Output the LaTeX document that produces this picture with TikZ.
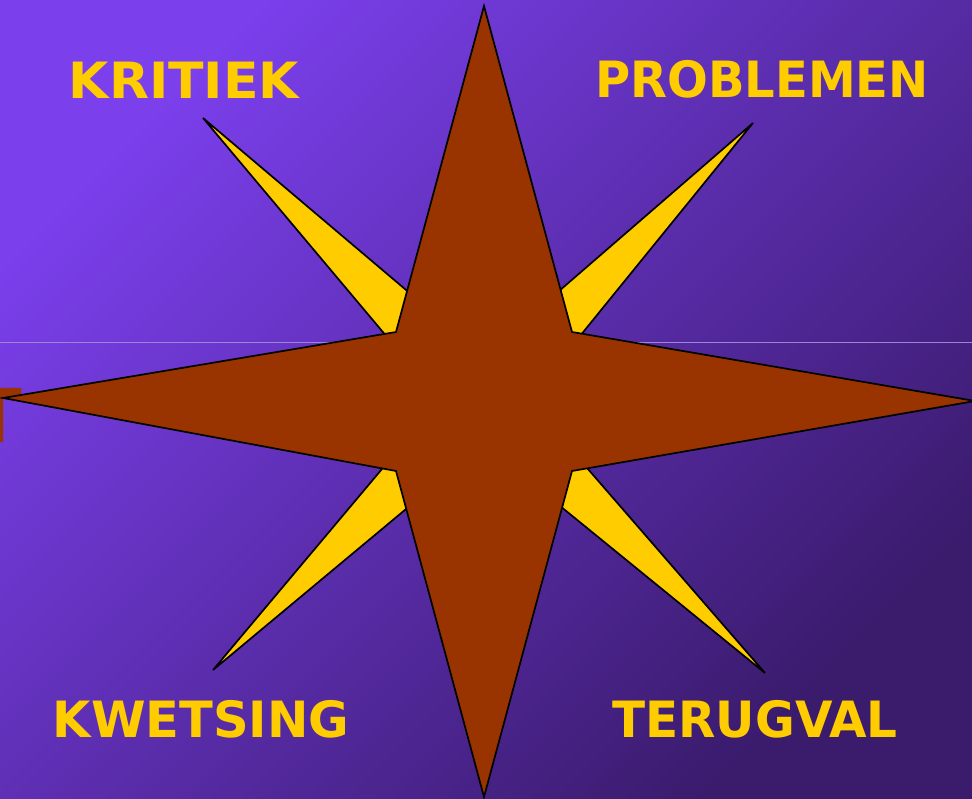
\documentclass[tikz,border=0pt]{standalone}
\usepackage{fontspec}
\setmainfont{DejaVu Sans}
\definecolor{bgA}{HTML}{7B3FEC}
\definecolor{bgB}{HTML}{3A1B6C}
\definecolor{gold}{HTML}{FFCC00}
\definecolor{rust}{HTML}{993300}
\definecolor{faint}{HTML}{9C84D8}
\tikzset{
  lbl/.style={text=gold, font=\fontsize{50}{60}\selectfont\bfseries, inner sep=0pt},
  yellowstar/.style={fill=gold, draw=black, line width=1.7pt, line join=miter},
  rustshape/.style={fill=rust, draw=black, line width=1.7pt, line join=miter},
}
\begin{document}
\begin{tikzpicture}[x=1pt,y=-1pt]
\useasboundingbox (0,0) rectangle (972,799);
\shade[top color=bgA, bottom color=bgB, shading angle=45] (0,0) rectangle (972,799);
\draw[faint, line width=0.8pt] (0,342) -- (972,342);
% small artifact at left edge
\fill[rust] (0,388) -- (21,388) -- (21,398) -- (3,398) -- (3,442) -- (0,442) -- cycle;
% diagonal yellow star
\draw[yellowstar] (203,118) -- (484,356) -- (753,123) -- (528,400) -- (765,673) -- (484,444) -- (213,670) -- (440,400) -- cycle;
% main brown star
\draw[rustshape] (484,6) -- (572,332) -- (975,401) -- (572,471) -- (484,797) -- (396,471) -- (3,398) -- (396,332) -- cycle;
% labels
\node[lbl] (kritiek) at (184,80) {\scalebox{1.04}[1]{KRITIEK}};
\node[lbl] (problemen) at (762,79) {\scalebox{0.96}[1]{PROBLEMEN}};
\node[lbl] (kwetsing) at (201,719) {\scalebox{0.99}[1]{KWETSING}};
\node[lbl] (terugval) at (755,719) {\scalebox{0.97}[1]{TERUGVAL}};
\end{tikzpicture}
\end{document}
